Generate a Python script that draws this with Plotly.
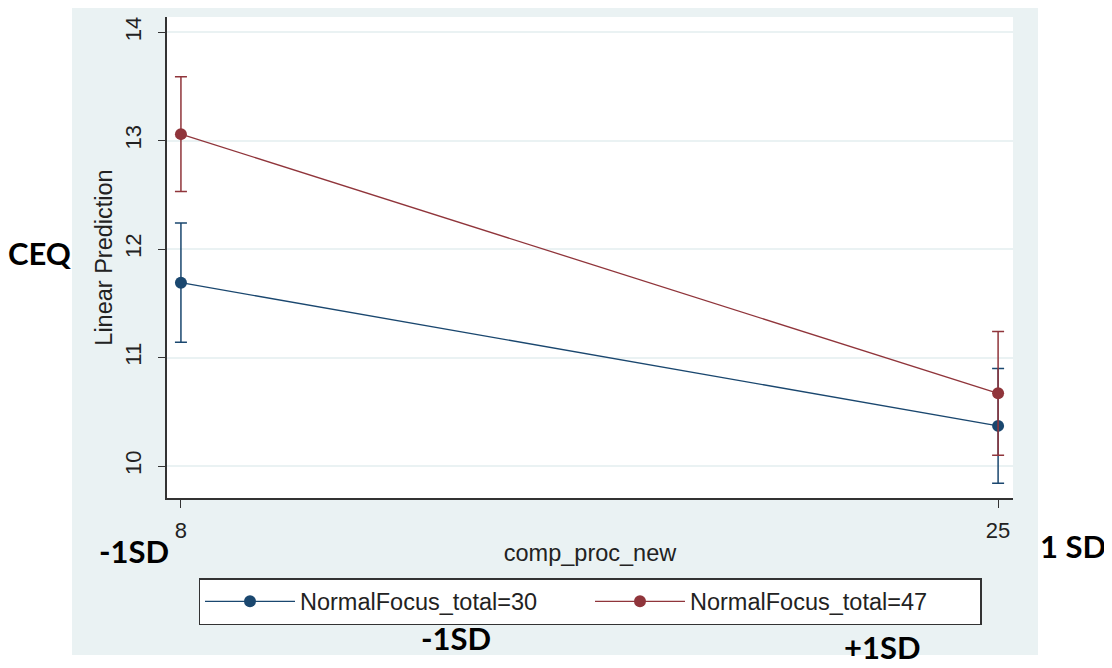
import plotly.graph_objects as go

# ---- data ----
comp_proc_new = [8, 25]
series_names = ["NormalFocus_total=30", "NormalFocus_total=47"]
pred_30 = [11.69, 10.37]
ci_30 = [0.55, 0.53]
pred_47 = [13.06, 10.67]
ci_47 = [0.53, 0.57]
y_ticks = [10, 11, 12, 13, 14]
x_ticks = [8, 25]

# page has an 8px body margin, so the figure is drawn 8px smaller / offset
OFF = 8
W, H = 1112 - OFF, 668 - OFF
L, R, T, B = 167 - OFF, 1112 - 1013, 17 - OFF, 668 - 498
PW, PH = W - L - R, H - T - B

def px(x):
    return (x - OFF - L) / PW

def py(y):
    return (H - B - (y - OFF)) / PH

blue = "#1a476f"
red = "#90353b"
bg = "#eaf2f3"
FONT = "Liberation Sans, Arial, sans-serif"

fig = go.Figure()
for name, yv, ci, col in [(series_names[0], pred_30, ci_30, blue),
                          (series_names[1], pred_47, ci_47, red)]:
    fig.add_trace(go.Scatter(
        x=comp_proc_new, y=yv, name=name, mode="lines+markers",
        line=dict(color=col, width=1.3),
        marker=dict(color=col, size=12),
        error_y=dict(type="data", array=ci, visible=True, color=col,
                     thickness=1.5, width=6),
    ))

shapes = [
    dict(type="rect", xref="paper", yref="paper", x0=px(72), x1=px(1038),
         y0=py(655), y1=py(8), fillcolor=bg, line=dict(width=0), layer="below"),
    dict(type="rect", xref="paper", yref="paper", x0=0, x1=1, y0=0, y1=1,
         fillcolor="white", line=dict(width=0), layer="below"),
]

ann_font = dict(family="Lato, Open Sans, sans-serif", size=31, color="black")
annotations = [
    dict(text="<b>CEQ</b>", x=px(40), y=py(253)),
    dict(text="<b>-1SD</b>", x=px(134), y=py(551)),
    dict(text="<b>1 SD</b>", x=px(1073), y=py(546)),
    dict(text="<b>-1SD</b>", x=px(456), y=py(638)),
    dict(text="<b>+1SD</b>", x=px(882), y=py(647)),
]
annotations = [dict(a, xref="paper", yref="paper", showarrow=False,
                    xanchor="center", yanchor="middle", font=ann_font)
               for a in annotations]

fig.update_layout(
    width=W, height=H,
    margin=dict(l=L, r=R, t=T, b=B, pad=0),
    paper_bgcolor="white", plot_bgcolor="white",
    font=dict(family=FONT, color="#222222"),
    shapes=shapes, annotations=annotations,
    showlegend=True,
    legend=dict(orientation="h", x=0.5, xanchor="center", y=py(578), yanchor="top",
                bgcolor="white", bordercolor="#333333", borderwidth=1.5,
                font=dict(family=FONT, size=23.5, color="#222222"),
                itemwidth=90, entrywidth=285, entrywidthmode="pixels",
                tracegroupgap=0),
    xaxis=dict(range=[7.71, 25.31], tickvals=x_ticks, ticks="outside", ticklen=8,
               tickcolor="#333333", showgrid=False, zeroline=False,
               showline=True, linecolor="#333333", linewidth=1.5,
               ticklabelstandoff=4,
               tickfont=dict(size=22), title=dict(text="comp_proc_new",
               font=dict(size=23.5), standoff=2)),
    yaxis=dict(range=[9.705, 14.14], tickvals=y_ticks, ticks="outside", ticklen=7,
               tickcolor="#333333", tickangle=-90, showgrid=True, gridcolor=bg,
               gridwidth=1.5, zeroline=False, showline=True, linecolor="#333333",
               linewidth=1.5, tickfont=dict(size=22), ticklabelstandoff=8,
               title=dict(text="Linear Prediction", font=dict(size=23.5), standoff=2)),
)

fig.write_html("out.html")
